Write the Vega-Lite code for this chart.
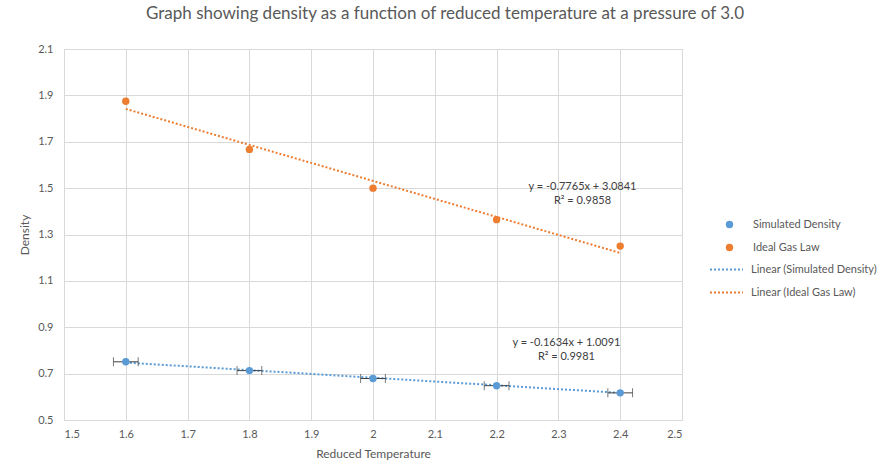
{
  "$schema": "https://vega.github.io/schema/vega-lite/v6.json",
  "width": 618,
  "height": 371,
  "autosize": "none",
  "padding": {"left": 64, "top": 49, "right": 207, "bottom": 56},
  "background": "white",
  "title": {
    "text": "Graph showing density as a function of reduced temperature at a pressure of 3.0",
    "fontSize": 17,
    "font": "Lato",
    "fontWeight": "normal",
    "color": "#595959",
    "anchor": "middle",
    "dx": 72,
    "offset": 20
  },
  "datasets": {
    "points": [
      {"T": 1.6, "rho": 0.751, "err": 0.02, "series": "Simulated Density"},
      {"T": 1.8, "rho": 0.713, "err": 0.02, "series": "Simulated Density"},
      {"T": 2.0, "rho": 0.679, "err": 0.02, "series": "Simulated Density"},
      {"T": 2.2, "rho": 0.648, "err": 0.02, "series": "Simulated Density"},
      {"T": 2.4, "rho": 0.617, "err": 0.02, "series": "Simulated Density"},
      {"T": 1.6, "rho": 1.875, "series": "Ideal Gas Law"},
      {"T": 1.8, "rho": 1.667, "series": "Ideal Gas Law"},
      {"T": 2.0, "rho": 1.5, "series": "Ideal Gas Law"},
      {"T": 2.2, "rho": 1.364, "series": "Ideal Gas Law"},
      {"T": 2.4, "rho": 1.25, "series": "Ideal Gas Law"}
    ],
    "trend": [
      {"T": 1.6, "rho": 0.7477, "series": "Linear (Simulated Density)"},
      {"T": 2.4, "rho": 0.6169, "series": "Linear (Simulated Density)"},
      {"T": 1.6, "rho": 1.8417, "series": "Linear (Ideal Gas Law)"},
      {"T": 2.4, "rho": 1.2205, "series": "Linear (Ideal Gas Law)"}
    ],
    "notes": [
      {"T": 2.339, "rho": 1.506, "label": "y = -0.7765x + 3.0841"},
      {"T": 2.339, "rho": 1.446, "label": "R² = 0.9858"},
      {"T": 2.313, "rho": 0.833, "label": "y = -0.1634x + 1.0091"},
      {"T": 2.313, "rho": 0.773, "label": "R² = 0.9981"}
    ]
  },
  "layer": [
    {
      "data": {"name": "trend"},
      "mark": {"type": "line", "strokeWidth": 2, "strokeDash": [2, 2]},
      "encoding": {
        "x": {"field": "T", "type": "quantitative", "title": "Reduced Temperature"},
        "y": {"field": "rho", "type": "quantitative", "title": "Density"},
        "stroke": {
          "field": "series",
          "type": "nominal",
          "scale": {
            "domain": ["Linear (Simulated Density)", "Linear (Ideal Gas Law)"],
            "range": ["#5b9bd5", "#ed7d31"]
          },
          "legend": {
            "title": null,
            "orient": "none",
            "legendX": 645,
            "legendY": 203,
            "symbolType": "stroke",
            "symbolSize": 1089,
            "symbolStrokeWidth": 2,
            "symbolDash": [2, 2],
            "labelFontSize": 11,
            "labelFont": "Lato",
            "labelColor": "#595959",
            "labelOffset": 7,
            "labelLimit": 300,
            "rowPadding": -1
          }
        }
      }
    },
    {
      "data": {"name": "points"},
      "transform": [{"filter": "datum.series === 'Simulated Density'"}],
      "mark": {"type": "errorbar", "ticks": {"size": 9, "color": "#404040", "thickness": 1}, "rule": {"color": "#404040", "strokeWidth": 1}},
      "encoding": {
        "x": {"field": "T", "type": "quantitative", "title": "Reduced Temperature"},
        "xError": {"field": "err"},
        "y": {"field": "rho", "type": "quantitative", "title": "Density"}
      }
    },
    {
      "data": {"name": "points"},
      "mark": {"type": "point", "filled": true, "size": 55, "opacity": 1},
      "encoding": {
        "x": {
          "field": "T",
          "type": "quantitative",
          "title": "Reduced Temperature",
          "scale": {"domain": [1.5, 2.5], "nice": false},
          "axis": {
            "values": [1.5, 1.6, 1.7, 1.8, 1.9, 2.0, 2.1, 2.2, 2.3, 2.4, 2.5],
            "format": "~g",
            "labelPadding": 8,
            "titlePadding": 9
          }
        },
        "y": {
          "field": "rho",
          "type": "quantitative",
          "title": "Density",
          "scale": {"domain": [0.5, 2.1], "nice": false, "zero": false},
          "axis": {
            "values": [0.5, 0.7, 0.9, 1.1, 1.3, 1.5, 1.7, 1.9, 2.1],
            "format": ".1f",
            "labelPadding": 11,
            "titlePadding": 6
          }
        },
        "color": {
          "field": "series",
          "type": "nominal",
          "scale": {
            "domain": ["Simulated Density", "Ideal Gas Law"],
            "range": ["#5b9bd5", "#ed7d31"]
          },
          "legend": {
            "title": null,
            "orient": "none",
            "legendX": 660,
            "legendY": 170,
            "symbolType": "circle",
            "symbolSize": 55,
            "labelFontSize": 11,
            "labelFont": "Lato",
            "labelColor": "#595959",
            "labelOffset": 18,
            "labelLimit": 300,
            "rowPadding": 11
          }
        }
      }
    },
    {
      "data": {"name": "notes"},
      "mark": {"type": "text", "fontSize": 11, "font": "Lato", "color": "#404040", "align": "center", "baseline": "middle"},
      "encoding": {
        "x": {"field": "T", "type": "quantitative"},
        "y": {"field": "rho", "type": "quantitative"},
        "text": {"field": "label"}
      }
    }
  ],
  "config": {
    "font": "Lato",
    "view": {"stroke": "#d9d9d9"},
    "axis": {
      "grid": true,
      "gridColor": "#d9d9d9",
      "domain": false,
      "ticks": false,
      "labelColor": "#595959",
      "labelFont": "Lato",
      "labelFontSize": 11,
      "titleColor": "#595959",
      "titleFont": "Lato",
      "titleFontSize": 12,
      "titleFontWeight": "normal"
    }
  }
}
